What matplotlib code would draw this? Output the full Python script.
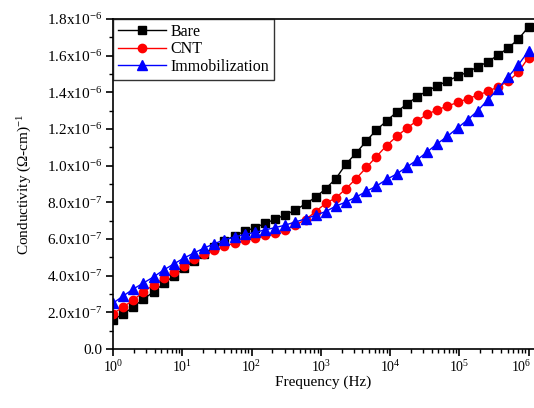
import matplotlib
matplotlib.use("Agg")
import matplotlib.pyplot as plt
from matplotlib.ticker import FixedLocator, FixedFormatter, LogLocator
from matplotlib.transforms import ScaledTranslation

plt.rcParams['font.family'] = ['Liberation Serif', 'DejaVu Serif']
plt.rcParams['mathtext.fontset'] = 'custom'
plt.rcParams['mathtext.rm'] = 'Liberation Serif'
plt.rcParams['mathtext.it'] = 'Liberation Serif:italic'
plt.rcParams['mathtext.bf'] = 'Liberation Serif:bold'

# frequency points (Hz), 42 log-spaced steps from 1 Hz to 1 MHz
freq = [1, 1.40, 1.96, 2.75, 3.85, 5.39, 7.55, 10.6, 14.8, 20.8,
        29.1, 40.7, 57.0, 79.9, 112, 157, 220, 308, 431, 603,
        845, 1183, 1658, 2322, 3252, 4555, 6380, 8936, 12520, 17530,
        24550, 34390, 48170, 67460, 94490, 132300, 185400, 259600, 363600, 509300,
        713300, 1000000]

# conductivity in units of 1e-7 (ohm-cm)^-1
bare = [1.60, 1.91, 2.29, 2.73, 3.11, 3.58, 3.98, 4.42, 4.82, 5.20,
        5.55, 5.90, 6.18, 6.42, 6.62, 6.85, 7.08, 7.32, 7.58, 7.92,
        8.28, 8.75, 9.30, 10.10, 10.69, 11.35, 11.95, 12.44, 12.93, 13.37,
        13.75, 14.08, 14.35, 14.62, 14.88, 15.10, 15.40, 15.66, 16.04, 16.42,
        16.90, 17.57]
cnt = [1.93, 2.29, 2.67, 3.11, 3.49, 3.87, 4.20, 4.53, 4.91, 5.20,
       5.40, 5.60, 5.78, 5.92, 6.06, 6.20, 6.35, 6.50, 6.76, 7.05,
       7.50, 7.95, 8.25, 8.75, 9.30, 9.90, 10.50, 11.10, 11.60, 12.05,
       12.45, 12.80, 13.05, 13.25, 13.45, 13.65, 13.85, 14.05, 14.30, 14.60,
       15.10, 15.90]
immob = [2.50, 2.89, 3.27, 3.60, 3.93, 4.31, 4.64, 4.96, 5.24, 5.51,
         5.75, 5.95, 6.11, 6.25, 6.36, 6.50, 6.62, 6.76, 6.93, 7.10,
         7.30, 7.50, 7.80, 8.02, 8.29, 8.60, 8.89, 9.25, 9.55, 9.93,
         10.31, 10.75, 11.20, 11.60, 12.06, 12.50, 13.00, 13.60, 14.20, 14.85,
         15.50, 16.25]

x_ticks = [1, 10, 100, 1e3, 1e4, 1e5, 1e6]
x_labels = [r'10$^{0}$', r'10$^{1}$', r'10$^{2}$', r'10$^{3}$', r'10$^{4}$', r'10$^{5}$', r'10$^{6}$']
y_ticks = [0, 2e-7, 4e-7, 6e-7, 8e-7, 1.0e-6, 1.2e-6, 1.4e-6, 1.6e-6, 1.8e-6]
y_labels = ['0.0', r'2.0x10$^{-7}$', r'4.0x10$^{-7}$', r'6.0x10$^{-7}$', r'8.0x10$^{-7}$',
            r'1.0x10$^{-6}$', r'1.2x10$^{-6}$', r'1.4x10$^{-6}$', r'1.6x10$^{-6}$', r'1.8x10$^{-6}$']

W, H = 534, 408
fig = plt.figure(figsize=(W / 100, H / 100), dpi=100)
ax = fig.add_axes([113 / W, (H - 349) / H, (W - 113) / W, (349 - 19) / H])

scale = 1e-7
ax.plot(freq, [v * scale for v in bare], color='black', marker='s', ms=5.5, lw=1, label='Bare')
ax.plot(freq, [v * scale for v in cnt], color='red', marker='o', ms=6, lw=1, label='CNT')
ax.plot(freq, [v * scale for v in immob], color='blue', marker='^', ms=7, lw=1, label='Immobilization')

ax.set_xscale('log')
ax.set_xlim(1, 1.2e6)
ax.set_ylim(0, 1.8e-6)

ax.yaxis.set_major_locator(FixedLocator(y_ticks))
ax.yaxis.set_major_formatter(FixedFormatter(y_labels))
ax.yaxis.set_minor_locator(FixedLocator([1e-7 * k for k in range(1, 18, 2)]))
ax.xaxis.set_major_locator(FixedLocator(x_ticks))
ax.xaxis.set_major_formatter(FixedFormatter(x_labels))
ax.xaxis.set_minor_locator(LogLocator(base=10, subs=range(2, 10), numticks=20))

ax.spines['right'].set_visible(False)
for s in ['left', 'bottom', 'top']:
    ax.spines[s].set_linewidth(1.2)
ax.tick_params(which='major', direction='out', length=5, width=1.2)
ax.tick_params(which='minor', direction='out', length=3, width=1)
ax.tick_params(axis='y', labelsize=11, pad=3)
ax.tick_params(axis='x', labelsize=10, pad=2)

ax.set_xlabel('Frequency (Hz)', fontsize=11, labelpad=1)
ax.set_ylabel(r'Conductivity ($\Omega$-cm)$^{-1}$', fontsize=11, labelpad=9)

leg = ax.legend(loc='upper left', borderaxespad=0, fancybox=False, edgecolor='black',
                fontsize=11.5, handlelength=3, labelspacing=0.1, borderpad=0.3,
                handletextpad=0.3)
leg.get_frame().set_linewidth(1)

# nudge the 10^6 label left so it stays inside the figure
fig.canvas.draw()
last = ax.xaxis.get_majorticklabels()[-1]
last.set_transform(last.get_transform() + ScaledTranslation(-5 / 72, 0, fig.dpi_scale_trans))

fig.savefig('out.png', dpi=100)
